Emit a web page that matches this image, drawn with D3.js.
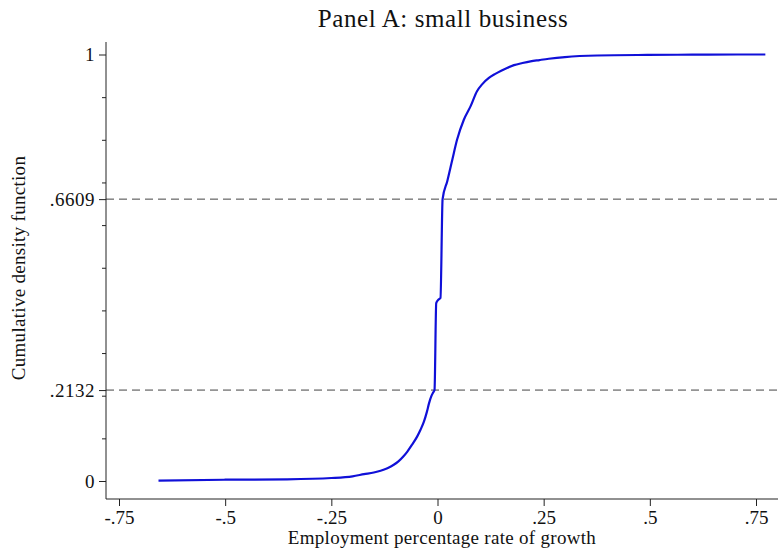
<!DOCTYPE html>
<html lang="en">
<head>
    <meta charset="UTF-8">
    <title>Panel A: small business</title>
    <script src="https://d3js.org/d3.v7.min.js" charset="utf-8"></script>
    <style>
        body { margin: 0; background: white; }
        svg { background: white; }
        text { font-family: 'Liberation Serif', 'Times New Roman', serif; fill: #111; }
    </style>
</head>
<body>
    <script>
        // growth rate (x) and cumulative share of firms (y)
        var growthRates = [-0.657, -0.5, -0.354, -0.25, -0.2, -0.173, -0.15, -0.134, -0.118, -0.103,
            -0.092, -0.08, -0.071, -0.06, -0.048, -0.04, -0.032, -0.025, -0.02, -0.014, -0.01, -0.007,
            -0.003, 0.002, 0.007, 0.012, 0.023, 0.035, 0.046, 0.062, 0.078, 0.093, 0.105, 0.121,
            0.135, 0.15, 0.165, 0.18, 0.2, 0.219, 0.24, 0.262, 0.3, 0.376, 0.494, 0.6, 0.706, 0.772];
        var cdfValues = [0.001, 0.003, 0.004, 0.007, 0.011, 0.016, 0.02, 0.024, 0.03, 0.038,
            0.046, 0.058, 0.069, 0.085, 0.104, 0.12, 0.139, 0.162, 0.182, 0.2, 0.208, 0.2132,
            0.417, 0.425, 0.429, 0.6609, 0.703, 0.754, 0.8, 0.847, 0.879, 0.914, 0.93, 0.945,
            0.954, 0.962, 0.969, 0.975, 0.98, 0.984, 0.987, 0.99, 0.994, 0.9977, 0.999, 0.9995, 1.0, 1.0];

        var xTicks = [-0.75, -0.5, -0.25, 0, 0.25, 0.5, 0.75];
        var xTickLabels = ['-.75', '-.5', '-.25', '0', '.25', '.5', '.75'];
        var yTicks = [0, 0.2132, 0.6609, 1];
        var yTickLabels = ['0', '.2132', '.6609', '1'];
        var yMinorTicks = [0.1, 0.2, 0.3, 0.4, 0.5, 0.6, 0.7, 0.8, 0.9];
        var refLines = [0.2132, 0.6609];

        var svgwidth = 780;
        var svgheight = 554;

        var data = growthRates.map(function(g, i) { return { x: g, y: cdfValues[i] }; });

        var svg = d3.select('body').append('svg')
            .attr('width', svgwidth)
            .attr('height', svgheight);

        var axisLeft = 106, axisBottom = 499, axisTop = 42, axisRight = 778;
        var labelFont = '19px';

        var x = d3.scaleLinear().domain([-0.75, 0.75]).range([119, 756]);
        var y = d3.scaleLinear().domain([0, 1]).range([481, 54.5]);

        // title
        svg.append('text')
            .attr('x', 443)
            .attr('y', 27)
            .attr('text-anchor', 'middle')
            .style('font-size', '25px')
            .style('letter-spacing', '0.6px')
            .text('Panel A: small business');

        // dashed reference lines
        svg.selectAll('.ref')
            .data(refLines)
            .enter().append('line')
            .attr('class', 'ref')
            .attr('x1', axisLeft)
            .attr('x2', axisRight)
            .attr('y1', function(d) { return y(d); })
            .attr('y2', function(d) { return y(d); })
            .attr('stroke', '#444')
            .attr('stroke-width', 1)
            .attr('stroke-dasharray', '8,5');

        // x axis
        var xAxis = d3.axisBottom(x)
            .tickValues(xTicks)
            .tickFormat(function(d, i) { return xTickLabels[i]; })
            .tickSize(7)
            .tickPadding(5);
        var gx = svg.append('g')
            .attr('transform', 'translate(0,' + axisBottom + ')')
            .call(xAxis);
        gx.select('.domain').remove();
        gx.append('line')
            .attr('x1', axisLeft).attr('x2', axisRight)
            .attr('stroke', '#222');
        gx.selectAll('.tick line').attr('stroke', '#222');
        gx.selectAll('.tick text')
            .style('font-family', "'Liberation Serif', serif")
            .style('font-size', labelFont)
            .attr('fill', '#111');

        // y axis: major ticks
        var yAxis = d3.axisLeft(y)
            .tickValues(yTicks)
            .tickFormat(function(d, i) { return yTickLabels[i]; })
            .tickSize(7)
            .tickPadding(4);
        var gy = svg.append('g')
            .attr('transform', 'translate(' + axisLeft + ',0)')
            .call(yAxis);
        gy.select('.domain').remove();
        gy.append('line')
            .attr('y1', axisTop).attr('y2', axisBottom)
            .attr('stroke', '#222');
        gy.selectAll('.tick line').attr('stroke', '#222');
        gy.selectAll('.tick text')
            .style('font-family', "'Liberation Serif', serif")
            .style('font-size', labelFont)
            .style('letter-spacing', '0.5px')
            .attr('fill', '#111');

        // y axis: minor ticks
        var yMinor = d3.axisLeft(y)
            .tickValues(yMinorTicks)
            .tickFormat('')
            .tickSize(4);
        var gym = svg.append('g')
            .attr('transform', 'translate(' + axisLeft + ',0)')
            .call(yMinor);
        gym.select('.domain').remove();
        gym.selectAll('.tick line').attr('stroke', '#222');

        // axis titles
        svg.append('text')
            .attr('x', 442)
            .attr('y', 544)
            .attr('text-anchor', 'middle')
            .style('font-size', labelFont)
            .style('letter-spacing', '0.3px')
            .text('Employment percentage rate of growth');

        svg.append('text')
            .attr('transform', 'translate(25,268) rotate(-90)')
            .attr('text-anchor', 'middle')
            .style('font-size', labelFont)
            .style('letter-spacing', '0.3px')
            .text('Cumulative density function');

        // CDF curve
        var line = d3.line()
            .curve(d3.curveMonotoneX)
            .x(function(d) { return x(d.x); })
            .y(function(d) { return y(d.y); });

        svg.append('path')
            .datum(data)
            .attr('d', line)
            .attr('fill', 'none')
            .attr('stroke', '#1010d8')
            .attr('stroke-width', 2.2)
            .attr('stroke-linejoin', 'round');
    </script>
</body>
</html>
